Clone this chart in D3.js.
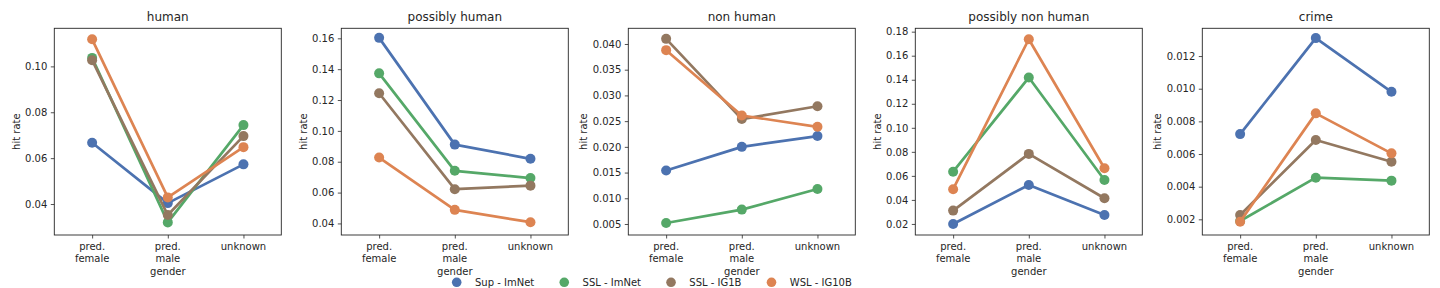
<!DOCTYPE html>
<html>
<head>
<meta charset="utf-8">
<script src="https://cdn.jsdelivr.net/npm/d3@7"></script>
<style>
  body { margin: 0; background: #fff; }
  text { font-family: "DejaVu Sans", sans-serif; fill: #262626; }
</style>
</head>
<body>
<div id="chart-area"></div>
<script>
// Data
const panels = ["human", "possibly human", "non human", "possibly non human", "crime"]
const genders = ["pred.\nfemale", "pred.\nmale", "unknown"]
const models = ["Sup - ImNet", "SSL - ImNet", "SSL - IG1B", "WSL - IG10B"]
const colors = ["#4c72b0", "#55a868", "#937860", "#dd8452"]

// one row per panel: [female, male, unknown]
const supImNet = [
  [0.0667, 0.0404, 0.0573],
  [0.1603, 0.0911, 0.0819],
  [0.0154, 0.0200, 0.0221],
  [0.0200, 0.0524, 0.0275],
  [0.00722, 0.0131, 0.00981]
]
const sslImNet = [
  [0.1037, 0.0320, 0.0744],
  [0.1373, 0.0741, 0.0694],
  [0.0052, 0.0078, 0.0118],
  [0.0635, 0.1418, 0.0566],
  [0.0019, 0.00455, 0.00437]
]
const sslIG1B = [
  [0.1027, 0.0352, 0.0696],
  [0.1244, 0.0622, 0.0645],
  [0.0410, 0.0254, 0.0279],
  [0.0311, 0.0783, 0.0414],
  [0.00226, 0.00686, 0.00553]
]
const wslIG10B = [
  [0.1118, 0.0429, 0.0648],
  [0.0827, 0.0488, 0.0408],
  [0.0388, 0.0261, 0.0239],
  [0.0489, 0.1737, 0.0663],
  [0.00185, 0.00849, 0.00604]
]
const series = [supImNet, sslImNet, sslIG1B, wslIG10B]

const yDomains = [
  [0.0265, 0.1166],
  [0.0325, 0.1665],
  [0.00286, 0.04305],
  [0.0108, 0.1828],
  [0.00104, 0.0137]
]
const yTicks = [
  [0.04, 0.06, 0.08, 0.10],
  [0.04, 0.06, 0.08, 0.10, 0.12, 0.14, 0.16],
  [0.005, 0.010, 0.015, 0.020, 0.025, 0.030, 0.035, 0.040],
  [0.02, 0.04, 0.06, 0.08, 0.10, 0.12, 0.14, 0.16, 0.18],
  [0.002, 0.004, 0.006, 0.008, 0.010, 0.012]
]
const yFormats = [".2f", ".2f", ".3f", ".2f", ".3f"]

// Layout
const W = 1440, H = 288
const AX = { LEFT: 54.3, STEP: 287, WIDTH: 227, TOP: 28.3, HEIGHT: 206.7 }

const svg = d3.select("#chart-area").append("svg")
  .attr("width", W)
  .attr("height", H)
  .attr("viewBox", [0, 0, W, H])

panels.forEach((name, p) => {
  const g = svg.append("g")
    .attr("transform", `translate(${AX.LEFT + p * AX.STEP},${AX.TOP})`)

  const x = d3.scaleLinear().domain([-0.5, 2.5]).range([0, AX.WIDTH])
  const y = d3.scaleLinear().domain(yDomains[p]).range([AX.HEIGHT, 0])

  // y axis
  const yAx = g.append("g")
    .call(d3.axisLeft(y).tickValues(yTicks[p]).tickFormat(d3.format(yFormats[p]))
      .tickSize(3.5).tickPadding(3.5))
  yAx.select(".domain").remove()
  yAx.selectAll("line").attr("stroke", "#262626").attr("stroke-width", 0.8)
  yAx.selectAll("text").style("font-size", "10px").attr("fill", "#262626")

  let maxW = 0
  yAx.selectAll("text").each(function() { maxW = Math.max(maxW, this.getComputedTextLength()) })

  // x axis
  const xAx = g.append("g")
    .attr("transform", `translate(0,${AX.HEIGHT})`)
    .call(d3.axisBottom(x).tickValues([0, 1, 2]).tickFormat("").tickSize(3.5))
  xAx.select(".domain").remove()
  xAx.selectAll("line").attr("stroke", "#262626").attr("stroke-width", 0.8)

  genders.forEach((lab, i) => {
    const t = g.append("text")
      .attr("x", x(i))
      .attr("y", AX.HEIGHT + 15.5)
      .attr("text-anchor", "middle")
      .style("font-size", "10px")
    lab.split("\n").forEach((line, k) => {
      t.append("tspan").attr("x", x(i)).attr("dy", k === 0 ? 0 : 11.3).text(line)
    })
  })

  g.append("text")
    .attr("x", AX.WIDTH / 2)
    .attr("y", AX.HEIGHT + 40.5)
    .attr("text-anchor", "middle")
    .style("font-size", "10px")
    .text("gender")

  g.append("text")
    .attr("transform", `translate(${-maxW - 12.5},${AX.HEIGHT / 2}) rotate(-90)`)
    .attr("text-anchor", "middle")
    .style("font-size", "10px")
    .text("hit rate")

  g.append("text")
    .attr("x", AX.WIDTH / 2)
    .attr("y", -7)
    .attr("text-anchor", "middle")
    .style("font-size", "12px")
    .text(name)

  // lines + points
  const line = d3.line().x((d, i) => x(i)).y(d => y(d))
  series.forEach((s, k) => {
    g.append("path")
      .datum(s[p])
      .attr("d", line)
      .attr("fill", "none")
      .attr("stroke", colors[k])
      .attr("stroke-width", 2.7)
      .attr("stroke-linejoin", "round")
    g.selectAll(null)
      .data(s[p])
      .join("circle")
      .attr("cx", (d, i) => x(i))
      .attr("cy", d => y(d))
      .attr("r", 5)
      .attr("fill", colors[k])
  })

  // frame
  g.append("rect")
    .attr("width", AX.WIDTH)
    .attr("height", AX.HEIGHT)
    .attr("fill", "none")
    .attr("stroke", "#262626")
    .attr("stroke-width", 0.9)
})

// Legend
const legend = svg.append("g").attr("transform", "translate(456.7,282.3)")
let lx = 0
models.forEach((m, k) => {
  legend.append("circle").attr("cx", lx).attr("cy", 0).attr("r", 4.8).attr("fill", colors[k])
  const t = legend.append("text")
    .attr("x", lx + 18.3)
    .attr("y", 3.6)
    .style("font-size", "10px")
    .text(m)
  lx += 18.3 + t.node().getComputedTextLength() + 30
})
</script>
</body>
</html>
